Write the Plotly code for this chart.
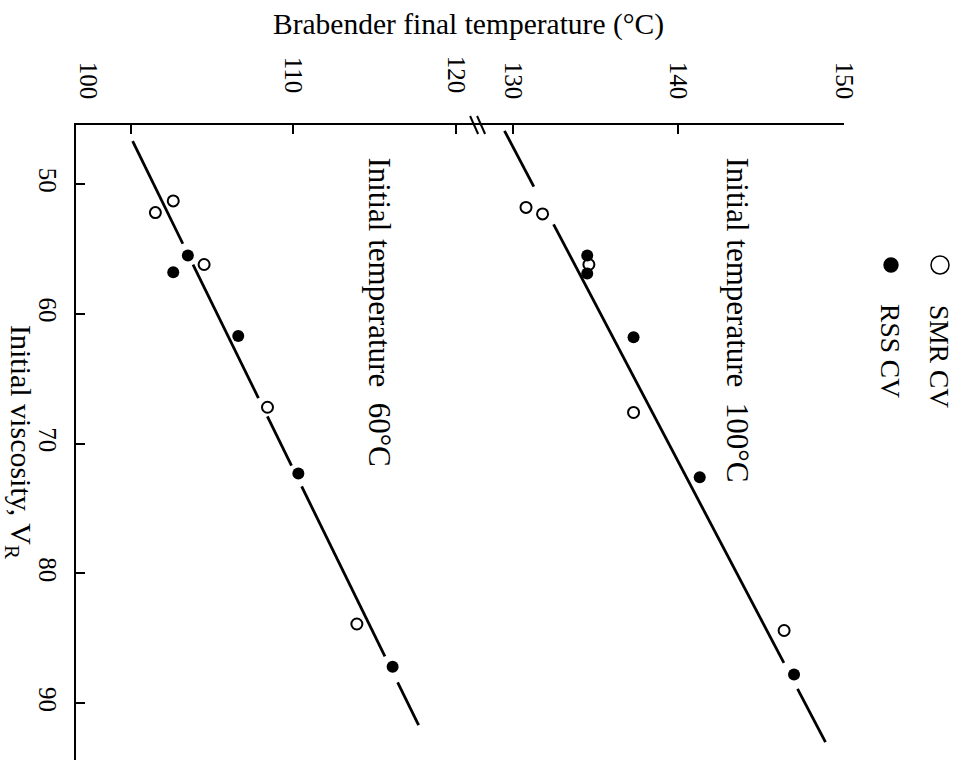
import numpy as np
import plotly.graph_objects as go

# Initial viscosity (V_R) and Brabender final temperature, initial temperature 60 °C
smr_visc_60 = [51.3, 52.2, 56.2, 67.2, 83.9]
smr_temp_60 = [102.6, 101.5, 104.5, 108.4, 113.9]
rss_visc_60 = [55.5, 56.8, 61.7, 72.3, 87.2]
rss_temp_60 = [103.5, 102.6, 106.6, 110.3, 116.1]

# Same, initial temperature 100 °C
smr_visc_100 = [51.8, 52.3, 56.2, 67.6, 84.4]
smr_temp_100 = [130.8, 131.8, 134.6, 137.3, 146.4]
rss_visc_100 = [55.5, 56.9, 61.8, 72.6, 87.8]
rss_temp_100 = [134.5, 134.5, 137.3, 141.3, 147.0]

# Fitted straight lines (end points) and the stretches where they are interrupted
fit_visc_60 = [46.7, 91.7]
fit_temp_60 = [100.1, 117.7]
fit_gaps_60 = [(54.6, 56.2), (66.5, 67.9), (71.7, 73.3), (86.4, 88.4)]
fit_visc_100 = [45.9, 93.0]
fit_temp_100 = [129.5, 148.9]
fit_gaps_100 = [(50.2, 53.1), (86.9, 88.9)]

temp_tick_first = [100]
temp_ticks_low = [110, 120]
temp_ticks_high = [130, 140, 150]
visc_ticks = [50, 60, 70, 80, 90]

FONT = "Liberation Serif"
LOW_RANGE = [96.615, 143.88]
HIGH_RANGE = [103.60, 150.02]


def broken_line(visc_ends, temp_ends, gaps):
    v = [visc_ends[0]]
    for a, b in gaps:
        v += [a, None, b]
    v.append(visc_ends[1])
    t = [None if x is None else float(np.interp(x, visc_ends, temp_ends)) for x in v]
    return t, v


open_marker = dict(symbol="circle", size=11, color="white", line=dict(color="black", width=2))
solid_marker = dict(symbol="circle", size=12, color="black", line=dict(color="black", width=0))
line_style = dict(color="black", width=2.8)

fig = go.Figure()

for temps, viscs, gaps, xa in [
    (fit_temp_60, fit_visc_60, fit_gaps_60, "x"),
    (fit_temp_100, fit_visc_100, fit_gaps_100, "x2"),
]:
    lt, lv = broken_line(viscs, temps, gaps)
    fig.add_trace(go.Scatter(x=lt, y=lv, mode="lines", line=line_style,
                             connectgaps=False, xaxis=xa, yaxis="y", showlegend=False))

fig.add_trace(go.Scatter(x=smr_temp_60, y=smr_visc_60, mode="markers", marker=open_marker,
                         xaxis="x", yaxis="y", name="SMR CV", showlegend=False))
fig.add_trace(go.Scatter(x=smr_temp_100, y=smr_visc_100, mode="markers", marker=open_marker,
                         xaxis="x2", yaxis="y", name="SMR CV", showlegend=False))
fig.add_trace(go.Scatter(x=rss_temp_60, y=rss_visc_60, mode="markers", marker=solid_marker,
                         xaxis="x", yaxis="y", name="RSS CV", showlegend=False))
fig.add_trace(go.Scatter(x=rss_temp_100, y=rss_visc_100, mode="markers", marker=solid_marker,
                         xaxis="x2", yaxis="y", name="RSS CV", showlegend=False))

tick_font = dict(family=FONT, size=25, color="black")
axis_common = dict(
    ticks="inside", ticklen=9, tickwidth=2, tickcolor="black",
    showgrid=False, zeroline=False, tickangle=90, tickfont=tick_font,
)

fig.update_layout(
    width=963, height=770,
    margin=dict(l=76, r=119, t=125, b=10),
    paper_bgcolor="white", plot_bgcolor="white",
    font=dict(family=FONT, size=25, color="black"),
    showlegend=False,
    xaxis=dict(
        range=LOW_RANGE, side="top", anchor="y",
        tickvals=temp_ticks_low, ticktext=[str(v) for v in temp_ticks_low],
        showline=True, linewidth=2, linecolor="black", ticklabelstandoff=21,
        **axis_common,
    ),
    # the lowest temperature label is set back to the axis corner
    xaxis3=dict(
        range=LOW_RANGE, side="top", anchor="y", overlaying="x",
        tickvals=temp_tick_first, ticktext=[str(v) for v in temp_tick_first],
        showline=False, ticklabelstandoff=21, ticklabelshift=-43,
        **axis_common,
    ),
    xaxis2=dict(
        range=HIGH_RANGE, side="top", anchor="y", overlaying="x",
        tickvals=temp_ticks_high, ticktext=[str(v) for v in temp_ticks_high],
        showline=False, ticklabelstandoff=21,
        **axis_common,
    ),
    yaxis=dict(
        range=[94.38, 45.45],
        tickvals=visc_ticks, ticktext=[str(v) for v in visc_ticks],
        showline=True, linewidth=2, linecolor="black", ticklabelstandoff=5,
        **axis_common,
    ),
)
# empty trace so the third temperature axis is drawn
fig.add_trace(go.Scatter(x=[None], y=[None], xaxis="x3", yaxis="y", showlegend=False,
                         hoverinfo="skip"))

big_font = dict(family=FONT, size=31, color="black")
annotations = [
    dict(text="Brabender final temperature (°C)", xref="paper", yref="paper",
         x=0.5117, y=1.159, xanchor="center", yanchor="middle", showarrow=False,
         font=dict(family=FONT, size=29.5, color="black")),
    dict(text="Initial viscosity, V<sub>R</sub>", xref="paper", yref="paper",
         x=-0.0742, y=0.5008, xanchor="center", yanchor="middle", textangle=90,
         showarrow=False, font=dict(family=FONT, size=30, color="black")),
    dict(text="Initial temperature\u00a0 100°C", xref="x2", yref="y",
         x=143.6, y=60.5, xanchor="center", yanchor="middle", textangle=90,
         showarrow=False, font=big_font),
    dict(text="Initial temperature\u00a0 60°C", xref="x", yref="y",
         x=115.3, y=59.86, xanchor="center", yanchor="middle", textangle=90,
         showarrow=False, font=big_font),
    dict(text="SMR CV", xref="paper", yref="paper", x=1.125, y=0.6362,
         xanchor="center", yanchor="middle", textangle=90, showarrow=False,
         font=dict(family=FONT, size=27.5, color="black")),
    dict(text="RSS CV", xref="paper", yref="paper", x=1.0612, y=0.644,
         xanchor="center", yanchor="middle", textangle=90, showarrow=False,
         font=dict(family=FONT, size=27.5, color="black")),
]
fig.update_layout(annotations=annotations)

shapes = [
    # legend symbols
    dict(type="circle", xref="paper", yref="paper", xsizemode="pixel", ysizemode="pixel",
         xanchor=1.125, yanchor=0.7795, x0=-9, x1=9, y0=-9, y1=9,
         line=dict(color="black", width=1.5), fillcolor="white"),
    dict(type="circle", xref="paper", yref="paper", xsizemode="pixel", ysizemode="pixel",
         xanchor=1.0612, yanchor=0.7795, x0=-7.7, x1=7.7, y0=-7.7, y1=7.7,
         line=dict(color="black", width=0), fillcolor="black"),
]
# axis-break strokes on the temperature axis
for dx in (0, 7):
    shapes.append(dict(type="line", xref="x", yref="paper", xsizemode="pixel", ysizemode="pixel",
                       xanchor=121.3, yanchor=1, x0=-7 + dx, x1=1 + dx, y0=9, y1=-9,
                       line=dict(color="black", width=2)))
fig.update_layout(shapes=shapes)

fig.write_html("out.html")
